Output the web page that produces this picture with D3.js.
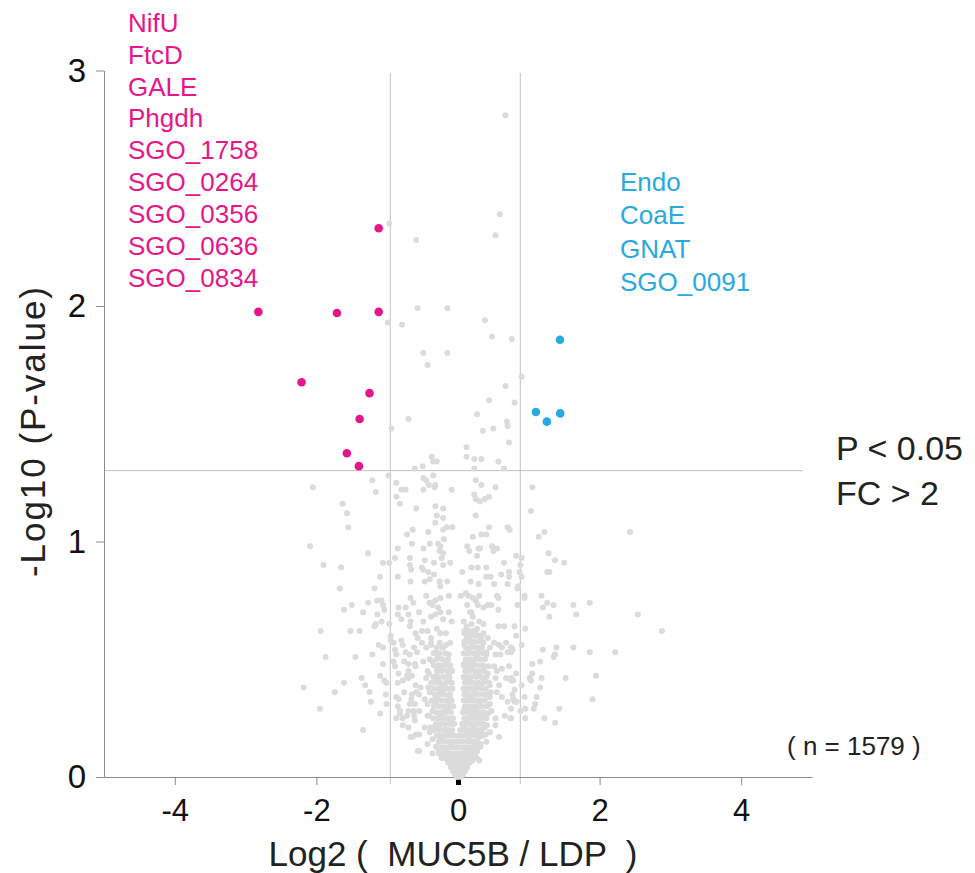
<!DOCTYPE html>
<html>
<head>
<meta charset="utf-8">
<script src="https://cdn.jsdelivr.net/npm/d3@7"></script>
<style>
  html, body { margin: 0; padding: 0; background: #fff; }
  svg { display: block; }
</style>
</head>
<body>
<svg id="chart" width="975" height="873"></svg>
<script>
const FONT = "'Liberation Sans', Arial, Helvetica, sans-serif";
const MAGENTA = "#e6168a";
const BLUE = "#29a9e0";
const GRAY = "#dbdbdb";

const X_TICKS = [-4, -2, 0, 2, 4];
const Y_TICKS = [0, 1, 2, 3];
const FC_CUTS = [-0.956, 0.88];
const P_CUT = 1.301;

const DOWN_LABELS = ["NifU", "FtcD", "GALE", "Phgdh", "SGO_1758", "SGO_0264", "SGO_0356", "SGO_0636", "SGO_0834"];
const UP_LABELS = ["Endo", "CoaE", "GNAT", "SGO_0091"];

// significant, lower in MUC5B
const DOWN_POINTS = [
  [-1.12, 2.33], [-2.82, 1.975], [-1.71, 1.97], [-1.12, 1.975], [-2.21, 1.676],
  [-1.25, 1.63], [-1.39, 1.52], [-1.57, 1.375], [-1.40, 1.32],
];

// significant, higher in MUC5B
const UP_POINTS = [[1.44, 1.857], [1.10, 1.55], [1.255, 1.509], [1.444, 1.544]];

// non-significant proteins, read off the picture region by region
const GRAY_TOP = [
  [-0.97, 2.35], [-0.59, 2.28], [0.59, 2.39], [0.53, 2.30], [0.67, 2.81],
  [-0.57, 1.99], [-0.15, 1.99], [-0.99, 1.93], [-0.79, 1.92], [0.38, 1.94], [0.48, 1.87], [0.76, 1.86],
  [-0.49, 1.80], [-0.15, 1.80], [-0.43, 1.75], [0.90, 1.70], [0.67, 1.66], [0.44, 1.60], [0.80, 1.59],
  [0.27, 1.54], [-0.70, 1.52], [-0.94, 1.48], [0.69, 1.51], [0.70, 1.49], [0.50, 1.48], [0.35, 1.47],
  [0.72, 1.42], [0.12, 1.40], [0.12, 1.36], [0.23, 1.35], [0.33, 1.35], [-0.37, 1.36], [-0.35, 1.34],
  [-0.30, 1.34], [0.57, 1.34], [-0.50, 1.32], [-0.61, 1.31], [0.23, 1.31], [0.65, 1.31],
  [-0.98, 1.28], [-0.87, 1.25], [-0.80, 1.22], [-0.74, 1.22], [-0.87, 1.19], [-0.82, 1.16], [-0.59, 1.14],
  [-0.49, 1.27], [-0.45, 1.26], [-0.41, 1.24], [-0.35, 1.28], [-0.33, 1.23], [-0.32, 1.24], [-0.49, 1.22],
  [-0.09, 1.22], [0.25, 1.26], [0.33, 1.24], [0.53, 1.23], [0.23, 1.20], [0.25, 1.18], [0.31, 1.17],
  [0.38, 1.18], [0.44, 1.19], [-0.32, 1.15], [-0.21, 1.14], [-0.30, 1.11], [-0.21, 1.10], [0.25, 1.11],
  [-0.32, 1.08], [-0.16, 1.06], [-0.08, 1.06], [-0.21, 1.05], [-0.64, 1.05], [-0.72, 1.03], [-0.42, 1.04],
  [-0.20, 1.01], [0.44, 1.06], [0.70, 1.06], [0.73, 1.05], [0.21, 1.02], [0.33, 1.03], [0.40, 1.03],
];

const GRAY_LEFT = [
  [-2.05, 1.23], [-1.63, 1.16], [-1.57, 1.12], [-1.55, 1.06], [-2.09, 0.98], [-1.90, 0.90], [-1.65, 0.89],
  [-1.27, 0.95], [-1.21, 1.26], [-1.16, 1.21], [-1.67, 0.80], [-1.10, 0.85], [-1.18, 0.80], [-1.06, 0.91],
  [-0.97, 0.91], [-0.89, 0.93], [-0.85, 0.97], [-0.85, 0.85], [-0.65, 0.99], [-0.67, 0.83],
  [-1.27, 0.74], [-1.50, 0.73], [-1.61, 0.71], [-1.34, 0.70], [-1.14, 0.75], [-1.08, 0.75], [-1.06, 0.73],
  [-1.04, 0.71], [-1.14, 0.69], [-1.16, 0.65], [-1.18, 0.64], [-1.08, 0.66], [-0.97, 0.65], [-0.84, 0.72],
  [-0.80, 0.67], [-0.85, 0.69], [-0.74, 0.72], [-0.70, 0.69], [-0.67, 0.76], [-0.63, 0.74], [-0.67, 0.66],
  [-0.68, 0.64], [-1.94, 0.62], [-1.52, 0.62], [-1.39, 0.62], [-1.87, 0.51], [-1.45, 0.51], [-1.21, 0.52],
  [-1.12, 0.56], [-1.06, 0.55], [-1.06, 0.48], [-2.18, 0.38], [-1.74, 0.36], [-1.61, 0.40], [-1.36, 0.42],
  [-1.31, 0.39], [-1.25, 0.36], [-1.23, 0.32], [-1.10, 0.43], [-1.04, 0.41], [-1.01, 0.40], [-1.02, 0.35],
  [-1.01, 0.31], [-1.10, 0.27], [-1.95, 0.29], [-1.34, 0.20], [-0.95, 0.58], [-0.91, 0.57], [-0.89, 0.54],
  [-0.87, 0.52], [-0.91, 0.49], [-0.89, 0.47], [-0.84, 0.44], [-0.85, 0.40], [-0.80, 0.58], [-0.78, 0.56],
  [-0.74, 0.53], [-0.76, 0.49], [-0.72, 0.43], [-0.68, 0.52], [-0.61, 0.48], [-0.70, 0.45], [-0.87, 0.34],
  [-0.84, 0.33], [-0.85, 0.30], [-0.82, 0.28], [-0.87, 0.25], [-0.78, 0.22], [-0.72, 0.26], [-0.68, 0.31],
  [-0.65, 0.35], [-0.61, 0.31], [-0.63, 0.28], [-0.70, 0.21], [-0.67, 0.17], [-0.59, 0.18], [-0.57, 0.11],
  [-0.61, 0.24], [-0.65, 0.43], [-0.59, 0.36], [-0.76, 0.36], [-0.95, 0.60],
];

const GRAY_RIGHT = [
  [1.05, 1.23], [1.03, 1.13], [1.22, 1.04], [1.14, 1.02], [2.43, 1.04], [1.28, 0.95], [1.37, 0.92],
  [1.50, 0.91], [1.26, 0.87], [1.29, 0.87], [1.18, 0.77], [1.20, 0.72], [1.26, 0.74], [1.35, 0.73],
  [1.29, 0.68], [1.63, 0.73], [1.67, 0.69], [1.86, 0.74], [2.54, 0.69], [2.88, 0.62], [1.20, 0.54],
  [1.39, 0.55], [1.35, 0.51], [1.37, 0.52], [1.63, 0.55], [1.86, 0.53], [2.22, 0.53], [1.16, 0.49],
  [1.05, 0.48], [1.05, 0.44], [1.01, 0.42], [1.03, 0.41], [1.18, 0.42], [1.52, 0.42], [1.95, 0.43],
  [1.16, 0.38], [1.11, 0.34], [1.09, 0.31], [1.07, 0.29], [1.43, 0.29], [1.90, 0.33], [1.22, 0.25],
  [1.37, 0.23], [0.95, 0.29], [0.95, 0.25], [0.90, 0.39], [0.90, 0.56], [0.95, 0.63], [0.94, 0.77],
  [0.94, 0.76], [0.90, 0.85], [0.88, 0.90], [0.90, 0.93], [0.82, 0.94], [0.84, 0.80], [0.84, 0.73],
  [0.80, 0.64], [0.82, 0.60], [0.77, 0.54], [0.75, 0.53], [0.82, 0.44], [0.78, 0.41], [0.75, 0.41],
  [0.80, 0.37], [0.78, 0.33], [0.80, 0.32], [0.75, 0.29], [0.88, 0.28], [0.75, 0.25],
];

const GRAY_MID = [
  [-0.49, 0.97], [-0.40, 0.99], [-0.28, 0.99], [-0.25, 0.98], [-0.26, 0.96], [-0.21, 0.95], [0.13, 0.98],
  [0.16, 0.96], [0.29, 0.97], [0.27, 0.94], [0.31, 0.97], [0.48, 0.98], [0.55, 0.97], [0.50, 0.96],
  [-0.68, 0.93], [-0.68, 0.90], [-0.66, 0.88], [-0.47, 0.92], [-0.51, 0.89], [-0.49, 0.88], [-0.42, 0.87],
  [-0.34, 0.91], [-0.23, 0.93], [-0.21, 0.90], [-0.11, 0.91], [-0.34, 0.86], [0.19, 0.89], [0.28, 0.89],
  [0.40, 0.89], [0.65, 0.91], [0.87, 0.87], [0.06, 0.87], [0.61, 0.86], [0.72, 0.87], [0.72, 0.85],
  [-0.47, 0.83], [-0.40, 0.84], [-0.26, 0.83], [-0.25, 0.81], [-0.15, 0.83], [0.18, 0.83], [0.29, 0.82],
  [0.40, 0.85], [0.46, 0.85], [0.51, 0.82], [0.70, 0.82], [0.85, 0.81], [0.11, 0.78], [0.04, 0.77],
  [-0.45, 0.77], [-0.40, 0.74], [-0.32, 0.75], [-0.25, 0.76], [-0.13, 0.77], [0.15, 0.77], [0.21, 0.76],
  [0.25, 0.75], [0.30, 0.77], [0.42, 0.73], [0.47, 0.73], [0.55, 0.77], [0.57, 0.76],
  [-0.55, 0.70], [-0.36, 0.73], [-0.28, 0.72], [0.13, 0.73], [0.17, 0.70], [0.28, 0.73], [0.36, 0.72], [0.57, 0.71],
  [-0.49, 0.66], [-0.38, 0.68], [-0.32, 0.69], [-0.25, 0.70], [-0.21, 0.67], [-0.13, 0.70], [-0.09, 0.66],
  [0.08, 0.66], [0.19, 0.70], [0.21, 0.68], [0.30, 0.66], [0.36, 0.65], [0.57, 0.64], [0.65, 0.64],
  [-0.60, 0.61], [-0.57, 0.59], [-0.51, 0.62], [-0.43, 0.62], [-0.38, 0.59], [-0.30, 0.63], [-0.25, 0.61],
  [-0.17, 0.61], [-0.11, 0.57], [0.09, 0.61], [0.15, 0.59], [0.25, 0.62], [0.30, 0.60], [0.36, 0.61],
  [0.42, 0.59], [0.51, 0.57], [0.58, 0.56], [0.68, 0.57], [0.75, 0.55], [0.70, 0.53],
  [-0.62, 0.55], [-0.58, 0.53], [-0.51, 0.57], [-0.45, 0.55], [-0.38, 0.57], [-0.32, 0.53], [-0.21, 0.55],
  [-0.13, 0.52], [0.09, 0.56], [0.15, 0.53], [0.21, 0.56], [0.28, 0.53], [0.34, 0.55], [0.40, 0.53],
  [0.45, 0.55], [0.53, 0.52], [0.62, 0.55], [0.60, 0.52],
  [-0.70, 0.48], [-0.60, 0.47], [-0.49, 0.49], [-0.43, 0.45], [-0.36, 0.49], [-0.30, 0.47], [-0.23, 0.45],
  [-0.17, 0.48], [-0.11, 0.46], [0.08, 0.48], [0.15, 0.45], [0.21, 0.49], [0.26, 0.44], [0.36, 0.47],
  [0.42, 0.44], [0.51, 0.47], [0.55, 0.45], [0.62, 0.46], [0.72, 0.47],
  [-0.78, 0.41], [-0.70, 0.42], [-0.60, 0.39], [-0.53, 0.38], [-0.45, 0.42], [-0.38, 0.40], [-0.30, 0.43],
  [-0.23, 0.39], [-0.13, 0.41], [0.09, 0.42], [0.17, 0.40], [0.25, 0.43], [0.32, 0.39], [0.38, 0.41],
  [0.45, 0.39], [0.53, 0.42], [0.58, 0.39], [0.68, 0.42], [0.75, 0.42],
  [-0.66, 0.33], [-0.55, 0.35], [-0.47, 0.33], [-0.40, 0.36], [-0.30, 0.34], [-0.21, 0.36], [-0.13, 0.32],
  [0.09, 0.35], [0.15, 0.33], [0.23, 0.36], [0.30, 0.32], [0.38, 0.35], [0.45, 0.34], [0.55, 0.36],
  [0.62, 0.34], [0.70, 0.32], [0.77, 0.35], [0.83, 0.32], [0.94, 0.34],
  [-0.82, 0.27], [-0.78, 0.25], [-0.70, 0.28], [-0.62, 0.26], [-0.55, 0.28], [-0.43, 0.26], [-0.36, 0.28],
  [-0.28, 0.25], [-0.21, 0.27], [-0.13, 0.28], [0.09, 0.29], [0.17, 0.26], [0.25, 0.28], [0.32, 0.25],
  [0.38, 0.27], [0.47, 0.28], [0.53, 0.25], [0.66, 0.26], [0.74, 0.25],
  [-0.64, 0.17], [-0.55, 0.18], [-0.47, 0.21], [-0.40, 0.19], [-0.32, 0.22], [-0.25, 0.17], [-0.17, 0.20],
  [-0.09, 0.18], [0.08, 0.21], [0.15, 0.18], [0.23, 0.20], [0.30, 0.17], [0.38, 0.21], [0.45, 0.19],
  [0.53, 0.22], [0.58, 0.17],
  [-0.55, 0.11], [-0.43, 0.14], [-0.36, 0.10], [-0.28, 0.12], [-0.21, 0.08], [-0.13, 0.10], [-0.08, 0.06],
  [-0.04, 0.03], [0.04, 0.02], [0.09, 0.07], [0.15, 0.09], [0.21, 0.11], [0.26, 0.08], [0.32, 0.13],
  [0.30, 0.07], [0.40, 0.15], [0.02, 0.04], [-0.02, 0.06],
];

// the packed V of the volcano: two lobes either side of zero, merging near the axis
const GRAY_CORE = [
  [0.09, 0.62], [0.15, 0.62], [0.21, 0.62], [0.12, 0.60], [0.18, 0.60], [0.25, 0.60],
  [0.09, 0.575], [0.15, 0.575], [0.22, 0.575], [0.29, 0.575],
  [0.11, 0.55], [0.18, 0.55], [0.25, 0.55], [0.32, 0.55],
  [0.08, 0.525], [0.14, 0.525], [0.21, 0.525], [0.28, 0.525], [0.35, 0.525],
  [0.11, 0.50], [0.17, 0.50], [0.24, 0.50], [0.31, 0.50], [0.38, 0.50],
  [0.08, 0.475], [0.14, 0.475], [0.20, 0.475], [0.27, 0.475], [0.34, 0.475],
  [0.10, 0.45], [0.16, 0.45], [0.23, 0.45], [0.30, 0.45], [0.37, 0.45],
  [0.08, 0.425], [0.13, 0.425], [0.19, 0.425], [0.26, 0.425], [0.33, 0.425], [0.40, 0.425],
  [0.10, 0.40], [0.16, 0.40], [0.22, 0.40], [0.29, 0.40], [0.36, 0.40],
  [0.08, 0.375], [0.13, 0.375], [0.19, 0.375], [0.25, 0.375], [0.32, 0.375], [0.39, 0.375],
  [0.10, 0.35], [0.16, 0.35], [0.22, 0.35], [0.28, 0.35], [0.35, 0.35], [0.42, 0.35],
  [0.08, 0.325], [0.13, 0.325], [0.19, 0.325], [0.25, 0.325], [0.31, 0.325], [0.38, 0.325],
  [0.10, 0.30], [0.16, 0.30], [0.22, 0.30], [0.28, 0.30], [0.34, 0.30], [0.41, 0.30],
  [0.07, 0.275], [0.13, 0.275], [0.19, 0.275], [0.25, 0.275], [0.31, 0.275], [0.37, 0.275],
  [0.09, 0.25], [0.15, 0.25], [0.21, 0.25], [0.27, 0.25], [0.33, 0.25], [0.40, 0.25],
  [0.06, 0.225], [0.12, 0.225], [0.18, 0.225], [0.24, 0.225], [0.30, 0.225], [0.36, 0.225],
  [0.03, 0.20], [0.09, 0.20], [0.15, 0.20], [0.21, 0.20], [0.27, 0.20], [0.33, 0.20],
  [0.06, 0.175], [0.12, 0.175], [0.18, 0.175], [0.24, 0.175], [0.30, 0.175], [0.35, 0.175],
  [0.03, 0.15], [0.09, 0.15], [0.15, 0.15], [0.21, 0.15], [0.27, 0.15],
  [0.06, 0.125], [0.12, 0.125], [0.18, 0.125], [0.24, 0.125],
  [0.03, 0.10], [0.09, 0.10], [0.15, 0.10], [0.21, 0.10],
  [0.12, 0.64], [0.19, 0.65], [0.27, 0.63], [0.33, 0.59], [0.36, 0.57], [0.40, 0.52], [0.43, 0.47],
  [0.44, 0.40], [0.46, 0.36], [0.45, 0.31], [0.43, 0.27], [0.41, 0.22], [0.39, 0.18], [0.32, 0.14],
  [0.27, 0.11], [0.24, 0.09], [0.20, 0.07],
  [0.13, 0.59], [0.20, 0.56], [0.26, 0.51], [0.12, 0.49], [0.19, 0.46], [0.29, 0.44], [0.15, 0.41],
  [0.26, 0.39], [0.11, 0.36], [0.20, 0.34], [0.30, 0.31], [0.17, 0.29], [0.27, 0.26], [0.11, 0.24],
  [0.22, 0.21], [0.32, 0.19], [0.15, 0.16], [0.25, 0.14], [0.10, 0.12], [0.18, 0.11],
  [-0.30, 0.55], [-0.22, 0.55], [-0.34, 0.525], [-0.26, 0.525], [-0.18, 0.525],
  [-0.30, 0.50], [-0.22, 0.50], [-0.14, 0.50],
  [-0.34, 0.475], [-0.26, 0.475], [-0.19, 0.475], [-0.11, 0.475],
  [-0.30, 0.45], [-0.23, 0.45], [-0.15, 0.45], [-0.08, 0.45],
  [-0.35, 0.425], [-0.27, 0.425], [-0.20, 0.425], [-0.12, 0.425],
  [-0.32, 0.40], [-0.25, 0.40], [-0.17, 0.40], [-0.09, 0.40],
  [-0.36, 0.375], [-0.29, 0.375], [-0.22, 0.375], [-0.14, 0.375], [-0.08, 0.375],
  [-0.33, 0.35], [-0.26, 0.35], [-0.19, 0.35], [-0.11, 0.35],
  [-0.37, 0.325], [-0.30, 0.325], [-0.23, 0.325], [-0.16, 0.325], [-0.09, 0.325],
  [-0.34, 0.30], [-0.27, 0.30], [-0.20, 0.30], [-0.13, 0.30], [-0.07, 0.30],
  [-0.31, 0.275], [-0.24, 0.275], [-0.17, 0.275], [-0.10, 0.275],
  [-0.35, 0.25], [-0.28, 0.25], [-0.21, 0.25], [-0.14, 0.25], [-0.07, 0.25],
  [-0.31, 0.225], [-0.24, 0.225], [-0.18, 0.225], [-0.11, 0.225], [-0.05, 0.225],
  [-0.34, 0.20], [-0.27, 0.20], [-0.21, 0.20], [-0.14, 0.20], [-0.08, 0.20],
  [-0.30, 0.175], [-0.24, 0.175], [-0.17, 0.175], [-0.11, 0.175], [-0.04, 0.175], [0.01, 0.175],
  [-0.27, 0.15], [-0.21, 0.15], [-0.14, 0.15], [-0.08, 0.15], [-0.02, 0.15],
  [-0.24, 0.125], [-0.18, 0.125], [-0.11, 0.125], [-0.05, 0.125], [0.00, 0.125],
  [-0.21, 0.10], [-0.15, 0.10], [-0.09, 0.10], [-0.03, 0.10],
  [-0.38, 0.56], [-0.26, 0.57], [-0.17, 0.56], [-0.40, 0.50], [-0.41, 0.44], [-0.42, 0.38], [-0.43, 0.31],
  [-0.41, 0.26], [-0.39, 0.21], [-0.36, 0.16], [-0.31, 0.13], [-0.27, 0.10], [-0.23, 0.08],
  [-0.28, 0.51], [-0.16, 0.49], [-0.23, 0.46], [-0.13, 0.44], [-0.29, 0.41], [-0.19, 0.39], [-0.25, 0.36],
  [-0.12, 0.34], [-0.32, 0.31], [-0.17, 0.29], [-0.25, 0.26], [-0.11, 0.24], [-0.28, 0.21], [-0.16, 0.19],
  [-0.22, 0.16], [-0.10, 0.14], [-0.17, 0.11],
  [-0.18, 0.08], [-0.12, 0.08], [-0.06, 0.08], [0.00, 0.08], [0.06, 0.08], [0.12, 0.08], [0.18, 0.08],
  [-0.14, 0.06], [-0.08, 0.06], [-0.02, 0.06], [0.04, 0.06], [0.10, 0.06], [0.16, 0.06],
  [-0.10, 0.04], [-0.04, 0.04], [0.02, 0.04], [0.08, 0.04], [0.13, 0.04],
  [-0.07, 0.025], [-0.01, 0.025], [0.05, 0.025], [0.10, 0.025],
  [-0.04, 0.01], [0.02, 0.01], [0.07, 0.01], [-0.01, 0.0], [0.04, 0.0],
];

const svg = d3.select("#chart");

const x = d3.scaleLinear().domain([-5, 5]).range([104, 812]);
const y = d3.scaleLinear().domain([0, 3]).range([777, 70.5]);

// cut-off guides
svg.append("g")
  .selectAll("line")
  .data(FC_CUTS)
  .join("line")
  .attr("x1", (d) => x(d)).attr("x2", (d) => x(d))
  .attr("y1", y(2.99)).attr("y2", y(0) + 7)
  .attr("stroke", "#c2c2c2")
  .attr("stroke-width", 1);

svg.append("line")
  .attr("x1", x(-5)).attr("x2", x(4.87))
  .attr("y1", y(P_CUT)).attr("y2", y(P_CUT))
  .attr("stroke", "#c2c2c2")
  .attr("stroke-width", 1);

// axes
const gx = svg.append("g")
  .attr("transform", `translate(0,${y(0)})`)
  .call(d3.axisBottom(x).tickValues(X_TICKS).tickFormat((d) => String(d))
    .tickSize(8).tickSizeOuter(0).tickPadding(14))
  .attr("font-family", FONT)
  .attr("font-size", 31);
gx.select(".domain").attr("stroke", "#8a8a8a");
gx.selectAll(".tick line").attr("stroke", "#8a8a8a");
gx.selectAll(".tick text").attr("fill", "#111");
gx.selectAll(".tick").filter((d) => d === 0).select("line")
  .attr("stroke", "#000").attr("stroke-width", 5);

const gy = svg.append("g")
  .attr("transform", `translate(${x(-5)},0)`)
  .call(d3.axisLeft(y).tickValues(Y_TICKS).tickFormat((d) => String(d))
    .tickSize(8).tickSizeOuter(0).tickPadding(10))
  .attr("font-family", FONT)
  .attr("font-size", 33);
gy.select(".domain").attr("stroke", "#8a8a8a");
gy.selectAll(".tick line").attr("stroke", "#8a8a8a");
gy.selectAll(".tick text").attr("fill", "#111");

// points
const grayPoints = [].concat(GRAY_TOP, GRAY_LEFT, GRAY_RIGHT, GRAY_MID, GRAY_CORE);

svg.append("g")
  .selectAll("circle")
  .data(grayPoints)
  .join("circle")
  .attr("cx", (d) => x(d[0]))
  .attr("cy", (d) => y(d[1]))
  .attr("r", 3)
  .attr("fill", GRAY);

svg.append("g")
  .selectAll("circle")
  .data(DOWN_POINTS)
  .join("circle")
  .attr("cx", (d) => x(d[0]))
  .attr("cy", (d) => y(d[1]))
  .attr("r", 4.3)
  .attr("fill", MAGENTA);

svg.append("g")
  .selectAll("circle")
  .data(UP_POINTS)
  .join("circle")
  .attr("cx", (d) => x(d[0]))
  .attr("cy", (d) => y(d[1]))
  .attr("r", 4.3)
  .attr("fill", BLUE);

// protein name lists
svg.append("g")
  .selectAll("text")
  .data(DOWN_LABELS)
  .join("text")
  .attr("x", 128)
  .attr("y", (d, i) => 31.7 + i * 31.9)
  .attr("font-family", FONT)
  .attr("font-size", 26)
  .attr("fill", MAGENTA)
  .text((d) => d);

svg.append("g")
  .selectAll("text")
  .data(UP_LABELS)
  .join("text")
  .attr("x", 620)
  .attr("y", (d, i) => 191 + i * 33.3)
  .attr("font-family", FONT)
  .attr("font-size", 26)
  .attr("fill", BLUE)
  .text((d) => d);

// annotations
svg.append("text")
  .attr("x", 836).attr("y", 460)
  .attr("font-family", FONT).attr("font-size", 34).attr("fill", "#222")
  .text("P < 0.05");
svg.append("text")
  .attr("x", 836).attr("y", 505)
  .attr("font-family", FONT).attr("font-size", 34).attr("fill", "#222")
  .text("FC > 2");
svg.append("text")
  .attr("x", 787).attr("y", 755)
  .attr("font-family", FONT).attr("font-size", 26).attr("fill", "#222")
  .text("( n = 1579 )");

// axis titles
svg.append("text")
  .attr("x", 453).attr("y", 866)
  .attr("text-anchor", "middle")
  .attr("font-family", FONT).attr("font-size", 35).attr("fill", "#222")
  .style("white-space", "pre")
  .text("Log2 (  MUC5B / LDP  )");

svg.append("text")
  .attr("transform", "translate(45,432) rotate(-90)")
  .attr("text-anchor", "middle")
  .attr("font-family", FONT).attr("font-size", 35).attr("fill", "#222")
  .attr("textLength", 290).attr("lengthAdjust", "spacing")
  .text("-Log10 (P-value)");
</script>
</body>
</html>
